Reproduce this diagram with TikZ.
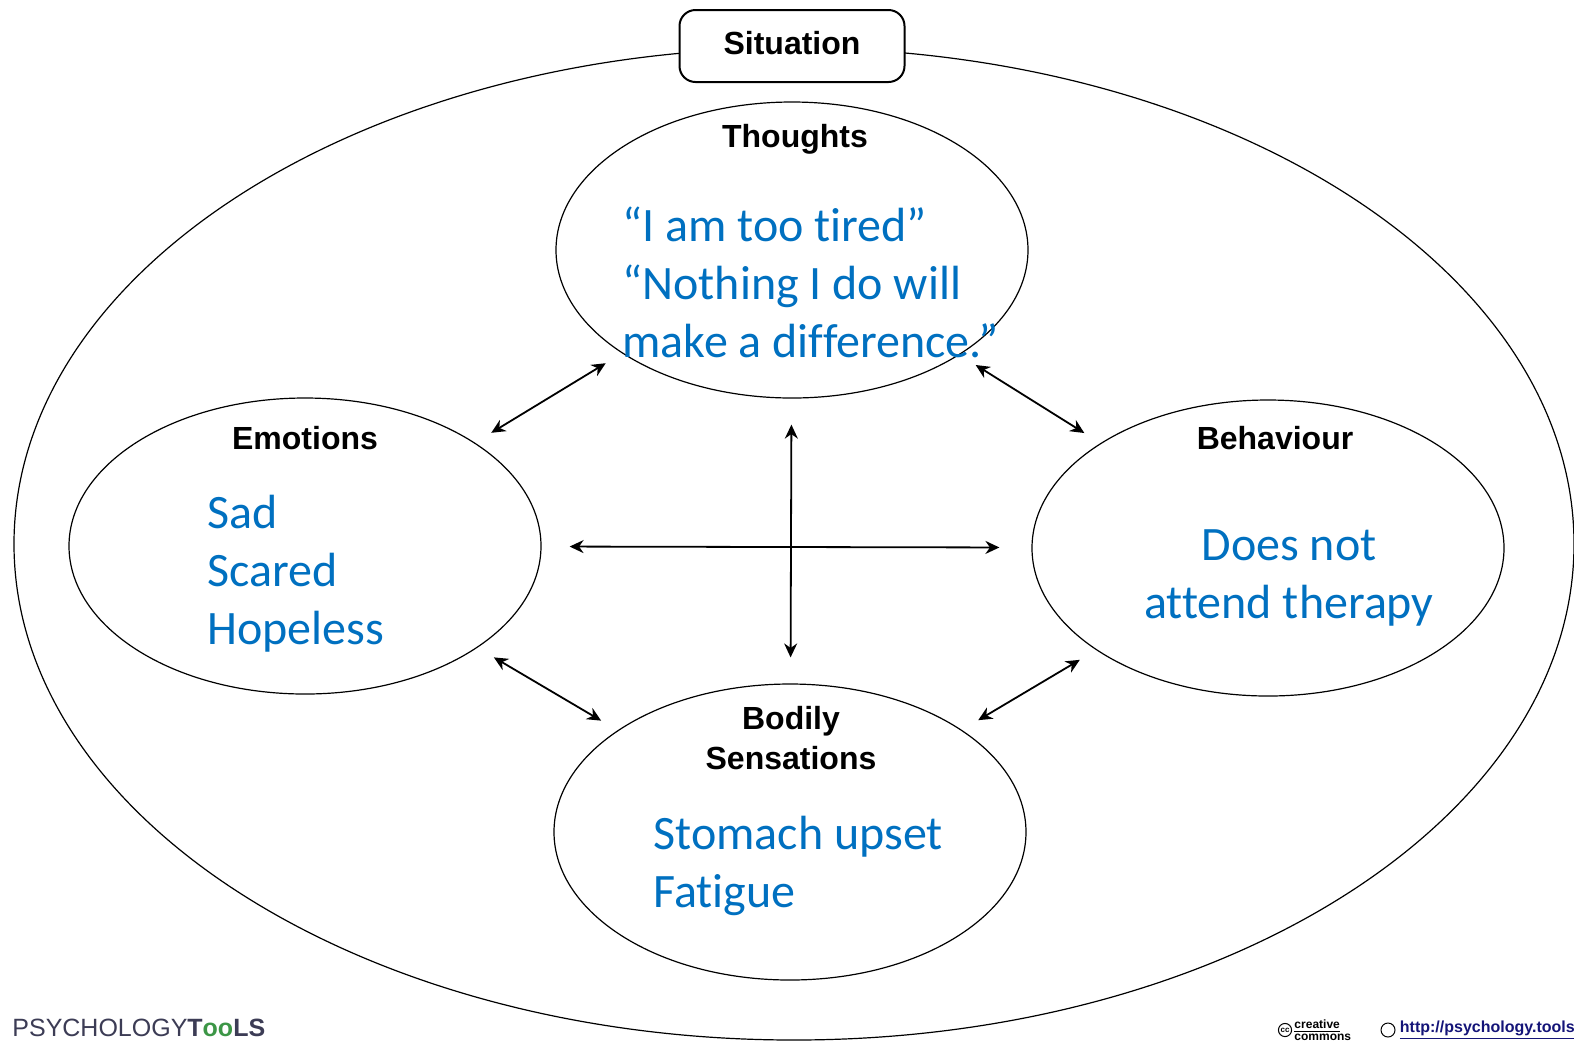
\documentclass[tikz,border=0pt]{standalone}
\usepackage{fontspec}
\setmainfont{Carlito}[Ligatures=NoCommon]
\newfontfamily\headfont{Liberation Sans}
\usetikzlibrary{arrows.meta, shapes.geometric, positioning}
\definecolor{exampleblue}{RGB}{0,112,192}
\definecolor{toolgreen}{RGB}{60,150,70}
\definecolor{logogray}{RGB}{60,60,85}
\definecolor{linkblue}{RGB}{20,20,120}

\tikzset{
    area/.style = {draw, ellipse, line width=0.6pt, minimum width=236pt, minimum height=148pt, inner sep=0pt},
    heading/.style = {font=\headfont\bfseries\fontsize{16}{20}\selectfont, align=center, inner sep=0pt},
    example/.style = {font=\fontsize{24}{29}\selectfont, text=exampleblue, inner sep=0pt},
    link/.style = {<->, >={Stealth[length=7pt, width=6.5pt]}, line width=0.9pt},
}

\begin{document}
\begin{tikzpicture}[x=0.5pt, y=-0.5pt]
    \clip (0,0) rectangle (1574,1041);
    \node [draw, ellipse, line width=0.6pt, minimum width=780pt, minimum height=496pt] (frame) at (794,544) {};
    \node [heading, draw, fill=white, rounded corners=8pt, line width=1pt, minimum width=112.5pt, minimum height=36pt] (situation) at (792,46) {Situation\vphantom{g}};

    \node [area] (thoughts) at (792,250) {};
    \node [area] (emotions) at (305,546) {};
    \node [area] (behaviour) at (1268,548) {};
    \node [area] (bodily) at (790,832) {};

    \node [heading] (thoughtsTitle) at (795,139) {Thoughts};
    \node [heading] (emotionsTitle) at (305,438) {Emotions};
    \node [heading] (behaviourTitle) at (1275,438) {Behaviour};
    \node [heading] (bodilyTitle) at (791,738) {Bodily\\Sensations};

    \node [example, align=left, anchor=west] (thoughtsText) at (622,282) {“I am too tired”\\“Nothing I do will\\make a difference.”};
    \node [example, align=left, anchor=west] (emotionsText) at (207,574) {Sad\\Scared\\Hopeless};
    \node [example, align=center] (behaviourText) at (1289,578) {Does not\\attend therapy};
    \node [example, align=left, anchor=west] (bodilyText) at (653,866) {Stomach upset\\Fatigue};

    \draw [link, shorten <=9.5pt, shorten >=9.5pt] (thoughts) -- (emotions);
    \draw [link, shorten <=9.5pt, shorten >=9.5pt] (thoughts) -- (behaviour);
    \draw [link, shorten <=9.5pt, shorten >=9.5pt] (emotions) -- (bodily);
    \draw [link, shorten <=9.5pt, shorten >=9.5pt] (behaviour) -- (bodily);
    \draw [link, shorten <=14pt, shorten >=16pt] (emotions) -- (behaviour);
    \draw [link, shorten <=13pt, shorten >=13pt] (thoughts) -- (bodily);

    % footer
    \node [anchor=north west, inner sep=0pt, text=logogray, font=\headfont\fontsize{12.5}{12.5}\selectfont] (logo) at (12,1019) {PSYCHOLOGY\textbf{T{\color{toolgreen}oo}LS}};
    \node [draw, circle, inner sep=0.6pt, line width=0.5pt, font=\headfont\bfseries\fontsize{4}{4}\selectfont] (ccmark) at (1285,1030) {cc};
    \node [right=1pt of ccmark, inner sep=0pt, align=left, font=\headfont\bfseries\fontsize{6}{5}\selectfont] (cctext) {\underline{creative}\\commons};
    \node [draw, circle, minimum size=7pt, inner sep=0pt, line width=0.5pt] (globe) at (1388,1030) {};
    \node [right=2pt of globe, inner sep=0pt, text=linkblue, font=\headfont\bfseries\fontsize{8}{8}\selectfont] (site) {\underline{http://psychology.tools}};
\end{tikzpicture}
\end{document}
